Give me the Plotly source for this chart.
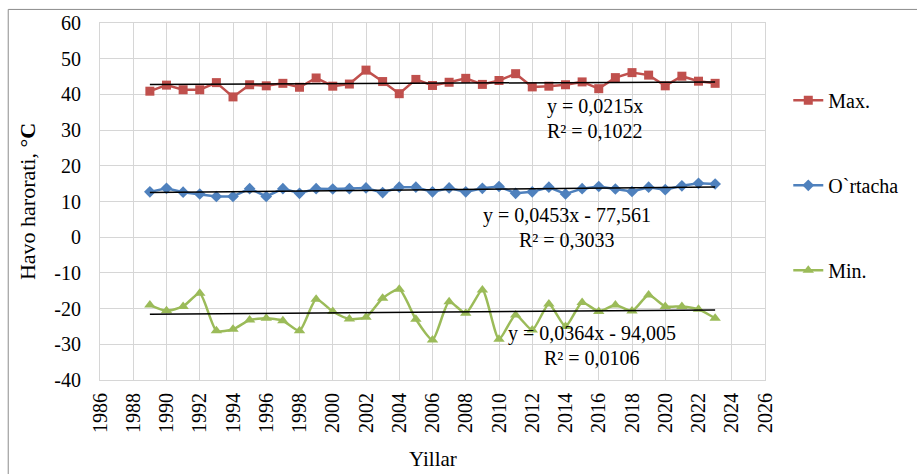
import plotly.graph_objects as go

# Yillar (years of observation)
years = list(range(1989, 2024))

# Yearly maximum air temperature, °C
t_max = [40.9, 42.6, 41.3, 41.3, 43.3, 39.3, 42.7, 42.4, 43.1, 42.0,
         44.6, 42.3, 42.9, 46.8, 43.6, 40.2, 44.2, 42.5, 43.4, 44.5,
         42.8, 43.9, 45.8, 42.1, 42.3, 42.7, 43.5, 41.6, 44.7, 46.1,
         45.4, 42.4, 45.1, 43.7, 43.1]

# Yearly mean air temperature, °C
t_mean = [12.7, 13.7, 12.6, 12.1, 11.4, 11.4, 13.6, 11.4, 13.6, 12.3,
          13.6, 13.5, 13.6, 13.8, 12.5, 14.0, 14.0, 12.7, 13.8, 12.7,
          13.7, 14.2, 12.3, 12.7, 14.0, 12.1, 13.6, 14.2, 13.5, 12.8,
          14.0, 13.3, 14.4, 15.1, 14.9]

# Yearly minimum air temperature, °C
t_min = [-19.0, -20.6, -19.4, -15.7, -26.2, -25.8, -23.2, -22.7, -23.4, -26.2,
         -17.4, -20.8, -22.9, -22.4, -17.1, -14.6, -23.0, -28.8, -18.1, -21.3,
         -14.8, -28.6, -21.8, -26.0, -18.7, -25.0, -18.3, -20.8, -19.0, -20.7,
         -16.2, -19.4, -19.4, -20.2, -22.7]

# Linear trend coefficients (slope, intercept)
trend_max = (0.0215, 0.0)
trend_mean = (0.0453, -77.561)
trend_min = (0.0364, -94.005)

# Axis ticks
x_ticks = list(range(1986, 2027, 2))
y_ticks = list(range(-40, 61, 10))
y_ticktext = [str(v) for v in y_ticks]  # plain hyphen minus

series_names = ["Max.", "O`rtacha", "Min."]
colors = ["#C0504D", "#4F81BD", "#9BBB59"]
symbols = ["square", "diamond", "triangle-up"]

FONT = "Liberation Serif"

fig = go.Figure()

data = [t_max, t_mean, t_min]
shapes_line = ["linear", "linear", "spline"]
sizes = [9, 9, 10]
for name, vals, col, sym, shp, sz in zip(series_names, data, colors, symbols, shapes_line, sizes):
    fig.add_trace(go.Scatter(
        x=years, y=vals, name=name, mode="lines+markers",
        line=dict(color=col, width=2.5, shape=shp, smoothing=0.6),
        marker=dict(symbol=sym, size=sz, color=col),
        legendgroup=name,
    ))

# Trend lines
for (k, b) in (trend_max, trend_mean, trend_min):
    xs = [years[0], years[-1]]
    fig.add_trace(go.Scatter(
        x=xs, y=[k * x + b for x in xs], mode="lines",
        line=dict(color="black", width=1.5), showlegend=False, hoverinfo="skip",
    ))

def eq_text(k, b):
    s = f"y = {k:.4f}x".replace(".", ",")
    if b:
        s += f" - {abs(b):.3f}".replace(".", ",")
    return s

annots = [
    (eq_text(*trend_max), 2015.8, 36.6),
    ("R² = 0,1022", 2015.8, 29.8),
    (eq_text(*trend_mean), 2014.1, 6.0),
    ("R² = 0,3033", 2014.1, -0.8),
    (eq_text(*trend_min), 2015.6, -27.0),
    ("R² = 0,0106", 2015.6, -33.8),
]
for txt, ax_, ay_ in annots:
    fig.add_annotation(x=ax_, y=ay_, text=txt, showarrow=False,
                       font=dict(family=FONT, size=20, color="black"),
                       xanchor="center", yanchor="middle")

# X-axis title
fig.add_annotation(x=0.5, y=-0.222, xref="paper", yref="paper", text="Yillar",
                   showarrow=False, xanchor="center", yanchor="middle",
                   font=dict(family=FONT, size=21, color="black"))

# Outer chart frame
fig.add_shape(type="rect", xref="paper", yref="paper",
              x0=-0.138, x1=1.235, y0=-0.28, y1=1.038,
              line=dict(color="#8c8c8c", width=1), layer="below")

grid = "#d6d6d6"
fig.update_xaxes(
    range=[1986, 2026], tickvals=x_ticks, tickangle=-90,
    showgrid=True, gridcolor=grid, gridwidth=1,
    showline=True, linecolor=grid, mirror=True, zeroline=False,
    tickfont=dict(family=FONT, size=20, color="black"),
    ticks="", ticklabelstandoff=4, automargin=False,
)
fig.update_yaxes(
    range=[-40, 60], tickvals=y_ticks, ticktext=y_ticktext,
    showgrid=True, gridcolor=grid, gridwidth=1,
    showline=True, linecolor=grid, mirror=True, zeroline=False,
    tickfont=dict(family=FONT, size=20, color="black"),
    title=dict(text="Havo harorati, °<b>C</b>", font=dict(family=FONT, size=22, color="black"), standoff=12),
    ticks="", ticklabelstandoff=14,
)

fig.update_layout(
    width=917, height=474,
    margin=dict(l=100, r=152, t=23, b=94),
    paper_bgcolor="white", plot_bgcolor="white",
    font=dict(family=FONT, color="black"),
    legend=dict(
        x=1.035, y=0.838, xanchor="left", yanchor="top",
        font=dict(family=FONT, size=20, color="black"),
        tracegroupgap=56, itemwidth=30, bgcolor="rgba(0,0,0,0)",
    ),
    showlegend=True,
)

fig.write_html("out.html")
